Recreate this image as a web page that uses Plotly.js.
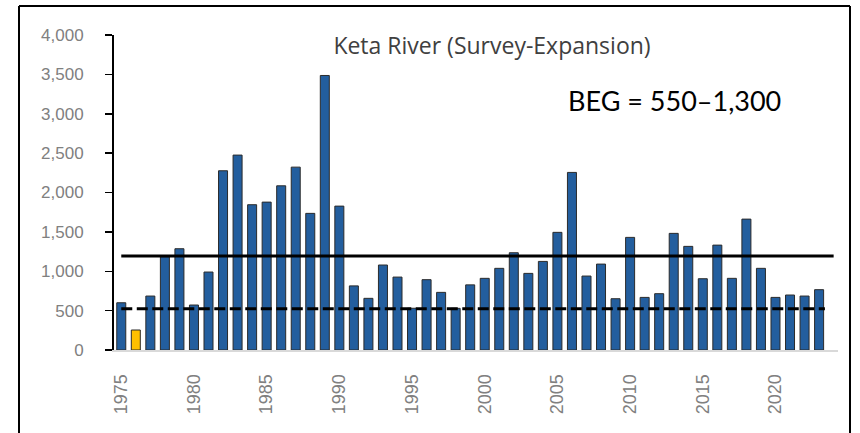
<!DOCTYPE html>
<html>
<head>
<meta charset="utf-8">
<script src="https://cdn.plot.ly/plotly-3.0.1.min.js"></script>
<style>
  html, body { margin: 0; padding: 0; background: #fff; }
  #chart { width: 860px; height: 433px; }
</style>
</head>
<body>
<div id="chart"></div>
<script>
// Keta River escapement (survey-expansion)
var years = [1975, 1976, 1977, 1978, 1979, 1980, 1981, 1982, 1983, 1984,
             1985, 1986, 1987, 1988, 1989, 1990, 1991, 1992, 1993, 1994,
             1995, 1996, 1997, 1998, 1999, 2000, 2001, 2002, 2003, 2004,
             2005, 2006, 2007, 2008, 2009, 2010, 2011, 2012, 2013, 2014,
             2015, 2016, 2017, 2018, 2019, 2020, 2021, 2022, 2023];
var escapement = [600, 254, 685, 1184, 1286, 571, 990, 2276, 2475, 1845,
                  1878, 2085, 2322, 1735, 3486, 1827, 814, 656, 1079, 926,
                  530, 893, 732, 529, 827, 910, 1037, 1235, 973, 1125,
                  1494, 2255, 939, 1091, 651, 1430, 668, 715, 1481, 1316,
                  905, 1332, 910, 1662, 1037, 668, 698, 685, 766];
var flaggedYears = [1976];

var goalLineYears = [1975, 2024];
var upperGoal = [1195, 1195];
var lowerGoalYears = [1975, 2023.4];
var lowerGoal = [525, 525];

var tickYears = [1975, 1980, 1985, 1990, 1995, 2000, 2005, 2010, 2015, 2020];

var titleText = "Keta River (Survey-Expansion)";
var begText = "BEG = 550\u20131,300";

// plot box in pixels
var W = 860, H = 433;
var L = 114, R = 22, T = 35, B = 83;

function pxX(px) { return (px - L) / (W - L - R); }
function pxY(py) { return (H - B - py) / (H - B - T); }

function initPlot(plot_element) {
	var colors = years.map(function (y) {
		return flaggedYears.indexOf(y) >= 0 ? "#FFC000" : "#235E9E";
	});

	var bars = {
		x: years,
		y: escapement,
		type: 'bar',
		width: 0.62,
		marker: { color: colors, line: { color: "#2b2b2b", width: 1 } },
		hoverinfo: 'x+y'
	};

	var upper = {
		x: goalLineYears,
		y: upperGoal,
		type: 'scatter',
		mode: 'lines',
		line: { color: "#000000", width: 3 },
		hoverinfo: 'skip'
	};

	var lower = {
		x: lowerGoalYears,
		y: lowerGoal,
		type: 'scatter',
		mode: 'lines',
		line: { color: "#000000", width: 3, dash: "11px,4.5px" },
		hoverinfo: 'skip'
	};

	var layout = {
		width: W,
		height: H,
		margin: { l: L, r: R, t: T, b: B, pad: 0 },
		showlegend: false,
		plot_bgcolor: "#FFF",
		paper_bgcolor: "#FFF",
		font: { family: "Liberation Sans, Arial, sans-serif", color: "#808080" },
		title: {
			text: titleText,
			font: { family: "Open Sans, sans-serif", size: 23, color: "#404040" },
			x: (492 / W), xanchor: 'center', xref: 'container',
			y: 1 - 46 / H, yanchor: 'middle', yref: 'container'
		},
		xaxis: {
			range: [1974.5, 2024.3],
			tickvals: tickYears,
			ticktext: tickYears.map(String),
			tickangle: -90,
			ticks: '',
			ticklabelstandoff: 15,
			tickfont: { size: 18, color: "#808080" },
			showgrid: false,
			zeroline: false,
			showline: true,
			linecolor: "#d9d9d9",
			linewidth: 2
		},
		yaxis: {
			range: [0, 4000],
			dtick: 500,
			tickformat: ',d',
			ticks: 'outside',
			ticklen: 7,
			tickwidth: 1.5,
			tickcolor: "#000000",
			ticklabelstandoff: 18,
			tickfont: { size: 17, color: "#808080" },
			showgrid: false,
			zeroline: false,
			showline: true,
			linecolor: "#000000",
			linewidth: 2
		},
		annotations: [{
			text: begText,
			xref: 'paper', yref: 'paper',
			x: pxX(566), y: pxY(100),
			xanchor: 'left', yanchor: 'middle',
			showarrow: false,
			font: { family: "Lato, sans-serif", size: 27, color: "#000000" }
		}],
		// outer frame round the picture
		shapes: [
			{ type: 'line', xref: 'paper', yref: 'paper', x0: pxX(19), x1: pxX(19), y0: pxY(6), y1: pxY(433), line: { color: "#000", width: 2 } },
			{ type: 'line', xref: 'paper', yref: 'paper', x0: pxX(19), x1: pxX(850), y0: pxY(6), y1: pxY(6), line: { color: "#000", width: 2 } },
			{ type: 'line', xref: 'paper', yref: 'paper', x0: pxX(850), x1: pxX(850), y0: pxY(6), y1: pxY(433), line: { color: "#000", width: 2 } }
		]
	};

	var config = { responsive: false, displayModeBar: false, staticPlot: true };

	Plotly.newPlot(plot_element, [bars, upper, lower], layout, config);
}

initPlot(document.getElementById('chart'));
</script>
</body>
</html>
